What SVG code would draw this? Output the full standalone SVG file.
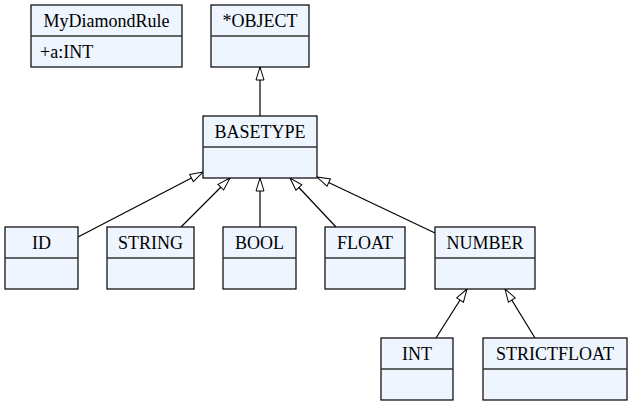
<svg xmlns="http://www.w3.org/2000/svg" width="631" height="405" viewBox="0 0 631 405">
<defs>
<style>
.box{fill:#eef5ff;stroke:#000;stroke-width:1.2}
.div{stroke:#333;stroke-width:1.5}
.c{text-anchor:middle}
.e{fill:none;stroke:#000;stroke-width:1.2}
</style>
<marker id="tri" markerWidth="16" markerHeight="12" refX="14" refY="5" orient="auto" markerUnits="userSpaceOnUse">
<path d="M1,1 L14,5 L1,9 Z" fill="#fff" stroke="#000" stroke-width="1"/>
</marker>
</defs>
<rect width="631" height="405" fill="#fff"/>
<g id="connectors">
<line class="e" x1="260" y1="116" x2="260" y2="67" marker-end="url(#tri)"/>
<line class="e" x1="78" y1="237" x2="203" y2="172" marker-end="url(#tri)"/>
<line class="e" x1="181" y1="227" x2="230" y2="178" marker-end="url(#tri)"/>
<line class="e" x1="260" y1="227" x2="260" y2="178" marker-end="url(#tri)"/>
<line class="e" x1="336" y1="227" x2="290" y2="178" marker-end="url(#tri)"/>
<line class="e" x1="435" y1="233" x2="317" y2="177" marker-end="url(#tri)"/>
<line class="e" x1="436" y1="338" x2="467" y2="289" marker-end="url(#tri)"/>
<line class="e" x1="535" y1="338" x2="505" y2="289" marker-end="url(#tri)"/>
</g>
<g id="MyDiamondRule">
<rect class="box" x="31" y="5" width="151" height="62"/>
<line class="div" x1="31" y1="36" x2="182" y2="36"/>
<text x="106.5" y="26.7" class="c" font-family="Liberation Serif, serif" font-size="18">MyDiamondRule</text>
<text x="40" y="57.5" font-family="Liberation Serif, serif" font-size="18">+a:INT</text>
</g>
<g id="OBJECT">
<rect class="box" x="211" y="5" width="98" height="62"/>
<line class="div" x1="211" y1="36" x2="309" y2="36"/>
<text x="260" y="26.7" class="c" font-family="Liberation Serif, serif" font-size="18">*OBJECT</text>
</g>
<g id="BASETYPE">
<rect class="box" x="203" y="116" width="114" height="62"/>
<line class="div" x1="203" y1="147" x2="317" y2="147"/>
<text x="260" y="137.5" class="c" font-family="Liberation Serif, serif" font-size="18">BASETYPE</text>
</g>
<g id="ID">
<rect class="box" x="5" y="227" width="73" height="62"/>
<line class="div" x1="5" y1="258" x2="78" y2="258"/>
<text x="41.5" y="248.5" class="c" font-family="Liberation Serif, serif" font-size="18">ID</text>
</g>
<g id="STRING">
<rect class="box" x="107" y="227" width="87" height="62"/>
<line class="div" x1="107" y1="258" x2="194" y2="258"/>
<text x="150.5" y="248.5" class="c" font-family="Liberation Serif, serif" font-size="18">STRING</text>
</g>
<g id="BOOL">
<rect class="box" x="223" y="227" width="73" height="62"/>
<line class="div" x1="223" y1="258" x2="296" y2="258"/>
<text x="259.5" y="248.5" class="c" font-family="Liberation Serif, serif" font-size="18">BOOL</text>
</g>
<g id="FLOAT">
<rect class="box" x="325" y="227" width="80" height="62"/>
<line class="div" x1="325" y1="258" x2="405" y2="258"/>
<text x="365" y="248.5" class="c" font-family="Liberation Serif, serif" font-size="18">FLOAT</text>
</g>
<g id="NUMBER">
<rect class="box" x="435" y="227" width="100" height="62"/>
<line class="div" x1="435" y1="258" x2="535" y2="258"/>
<text x="485" y="248.5" class="c" font-family="Liberation Serif, serif" font-size="18">NUMBER</text>
</g>
<g id="INT">
<rect class="box" x="381" y="338" width="72" height="62"/>
<line class="div" x1="381" y1="369" x2="453" y2="369"/>
<text x="417" y="359.5" class="c" font-family="Liberation Serif, serif" font-size="18">INT</text>
</g>
<g id="STRICTFLOAT">
<rect class="box" x="483" y="338" width="144" height="62"/>
<line class="div" x1="483" y1="369" x2="627" y2="369"/>
<text x="555" y="359.5" class="c" font-family="Liberation Serif, serif" font-size="18">STRICTFLOAT</text>
</g>
</svg>
